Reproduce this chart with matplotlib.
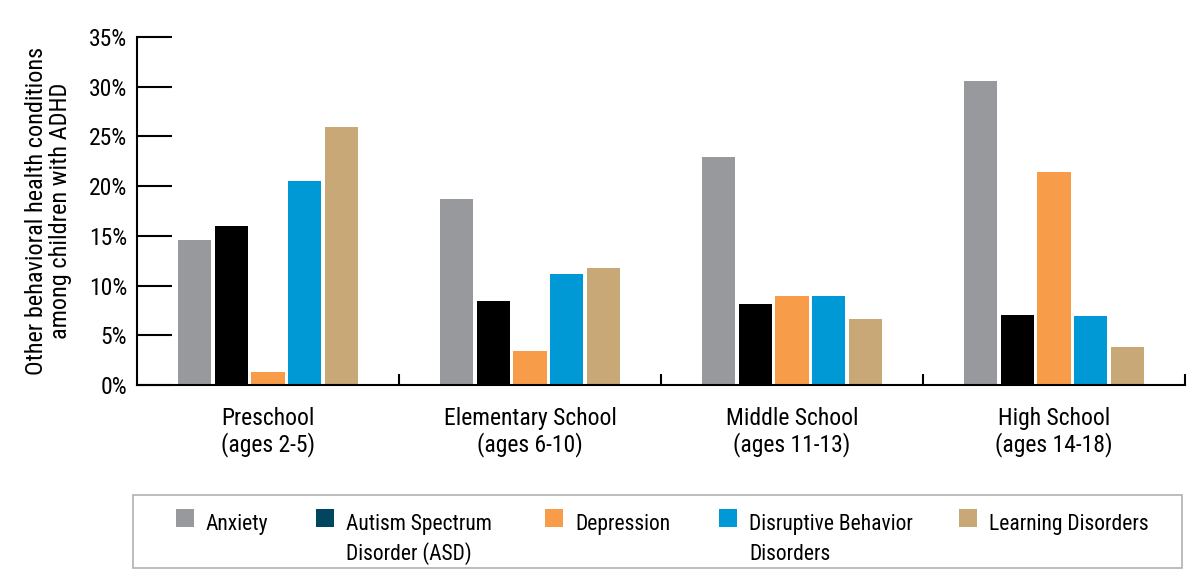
import matplotlib
matplotlib.use("Agg")
import matplotlib.pyplot as plt
import numpy as np
from matplotlib.patches import Rectangle
from matplotlib import font_manager

names = set(f.name for f in font_manager.fontManager.ttflist)
fam = "DejaVu Sans"
for cand in ["Roboto Condensed", "Archivo Narrow", "PT Sans Narrow", "Asap Condensed",
             "Liberation Sans Narrow"]:
    if cand in names:
        fam = cand
        break
plt.rcParams['font.family'] = [fam, 'DejaVu Sans']

categories = ["Preschool\n(ages 2-5)", "Elementary School\n(ages 6-10)",
              "Middle School\n(ages 11-13)", "High School\n(ages 14-18)"]
series = ["Anxiety", "Autism Spectrum\nDisorder (ASD)", "Depression",
          "Disruptive Behavior\nDisorders", "Learning Disorders"]
anxiety = [14.6, 18.7, 22.9, 30.6]
asd = [16.0, 8.4, 8.1, 7.0]
depression = [1.3, 3.4, 9.0, 21.4]
disruptive = [20.5, 11.2, 9.0, 6.9]
learning = [25.9, 11.8, 6.6, 3.8]
yticks = [0, 5, 10, 15, 20, 25, 30, 35]

values = [anxiety, asd, depression, disruptive, learning]
bar_colors = ["#97999c", "#000000", "#f79d4a", "#0099d6", "#c8a876"]
legend_colors = ["#97999c", "#00465f", "#f79d4a", "#0099d6", "#c8a876"]

W, H = 1200, 587
fig = plt.figure(figsize=(W / 100, H / 100), dpi=100)
ax = fig.add_axes([137 / W, 1 - 385 / H, (1185 - 137) / W, (385 - 37) / H])

x = np.arange(len(categories))
width = 0.126
step = 0.141
for i, (vals, c) in enumerate(zip(values, bar_colors)):
    ax.bar(x + (i - 2) * step, vals, width=width, color=c, linewidth=0)

ax.set_xlim(-0.5, 3.5)
ax.set_ylim(0, 35)
ax.set_yticks(yticks)
ax.set_yticklabels([f"{t}%" for t in yticks], fontsize=17)
ax.tick_params(axis='y', direction='in', length=25, width=1.5, pad=7)
ax.set_xticks(x)
ax.set_xticklabels(categories, fontsize=17, linespacing=1.1)
ax.tick_params(axis='x', length=0, pad=16)
ax.set_xticks(np.arange(0.5, 4.0, 1.0), minor=True)
ax.tick_params(axis='x', which='minor', direction='in', length=8, width=1.5)

for s in ['top', 'right']:
    ax.spines[s].set_visible(False)
ax.spines['left'].set_linewidth(1.5)
ax.spines['bottom'].set_linewidth(1.5)

ax.set_ylabel("Other behavioral health conditions\namong children with ADHD",
              fontsize=17.5, linespacing=1.1, labelpad=12)

# legend box
def fx(px):
    return px / W

def fy(py):
    return 1 - py / H

fig.add_artist(Rectangle((fx(133), fy(568)), fx(1182) - fx(133), fy(495) - fy(568),
                         transform=fig.transFigure, facecolor='white',
                         edgecolor='#b0b0b0', linewidth=1.2))
patch_x = [176, 316, 545, 719, 959]
for px, c, label in zip(patch_x, legend_colors, series):
    fig.add_artist(Rectangle((fx(px), fy(527)), fx(18), 18 / H,
                             transform=fig.transFigure, facecolor=c, edgecolor='none'))
    for k, line in enumerate(label.split("\n")):
        fig.text(fx(px + 30), fy(530 + 30 * k), line, fontsize=15.5,
                 va='baseline', ha='left')

fig.savefig("out.png", dpi=100)
